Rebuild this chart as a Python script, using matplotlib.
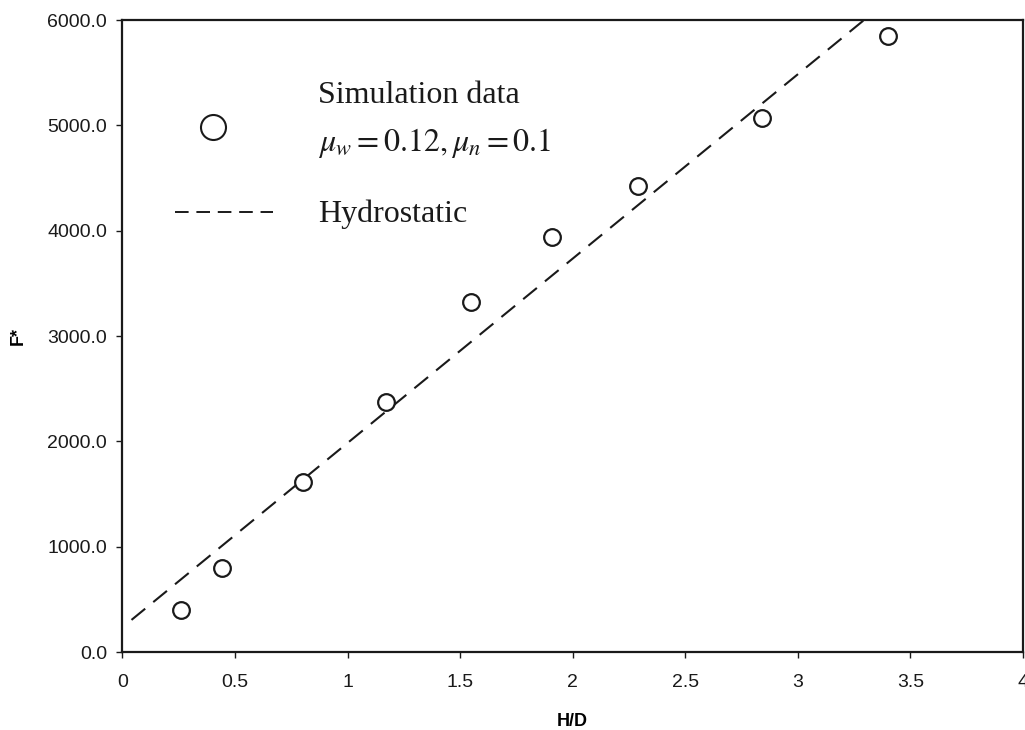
import matplotlib
matplotlib.use('Agg')
import matplotlib.pyplot as plt

# simulation data
hd_sim = [0.26, 0.44, 0.80, 1.17, 1.55, 1.91, 2.29, 2.84, 3.40]
f_sim = [400, 795, 1615, 2375, 3320, 3940, 4420, 5065, 5845]

# hydrostatic line
hd_hyd = [0.04, 3.30]
f_hyd = [305, 6010]

x_ticks = [0, 0.5, 1, 1.5, 2, 2.5, 3, 3.5, 4]
x_labels = ['0', '0.5', '1', '1.5', '2', '2.5', '3', '3.5', '4']
y_ticks = [0, 1000, 2000, 3000, 4000, 5000, 6000]

plt.rcParams['font.family'] = ['Liberation Sans', 'DejaVu Sans']
plt.rcParams['mathtext.fontset'] = 'stix'

fig = plt.figure(figsize=(10.25, 7.3), dpi=100)
ax = fig.add_axes([0.1195, 0.1068, 0.8785, 0.8658])

ax.plot(hd_hyd, f_hyd, color='#1a1a1a', lw=1.5, linestyle=(0, (8.5, 5)))
ax.plot(hd_sim, f_sim, linestyle='none', marker='o', markersize=12,
        markerfacecolor='white', markeredgecolor='#1a1a1a', markeredgewidth=1.6)

ax.set_xlim(0, 4)
ax.set_ylim(0, 6000)
ax.set_xticks(x_ticks)
ax.set_xticklabels(x_labels)
ax.set_yticks(y_ticks)
ax.set_yticklabels([f'{v:.1f}' for v in y_ticks])
ax.tick_params(direction='out', length=4, width=1, labelsize=14, colors='#1a1a1a')
ax.tick_params(axis='x', pad=12)
ax.tick_params(axis='y', pad=7)
for s in ax.spines.values():
    s.set_linewidth(1.6)
    s.set_color('#1a1a1a')

ax.set_xlabel('H/D', fontsize=13, fontweight='bold', labelpad=16)
ax.set_ylabel('F*', fontsize=13, fontweight='bold', labelpad=15)

# hand-made legend
serif = ['Liberation Serif', 'DejaVu Serif']
ax.plot([0.1005], [0.831], transform=ax.transAxes, marker='o', markersize=18,
        markerfacecolor='white', markeredgecolor='#1a1a1a', markeredgewidth=1.5,
        clip_on=False)
ax.text(0.217, 0.880, 'Simulation data', transform=ax.transAxes, family=serif,
        fontsize=23, va='center', color='#1a1a1a')
ax.text(0.217, 0.806, r'$\mu_w = 0.12, \mu_n = 0.1$', transform=ax.transAxes,
        fontsize=23, va='center', color='#1a1a1a')
ax.plot([0.058, 0.167], [0.696, 0.696], transform=ax.transAxes, color='#1a1a1a',
        lw=1.4, linestyle=(0, (7, 4)))
ax.text(0.217, 0.693, 'Hydrostatic', transform=ax.transAxes, family=serif,
        fontsize=23, va='center', color='#1a1a1a')

fig.savefig('out.png', dpi=100)
